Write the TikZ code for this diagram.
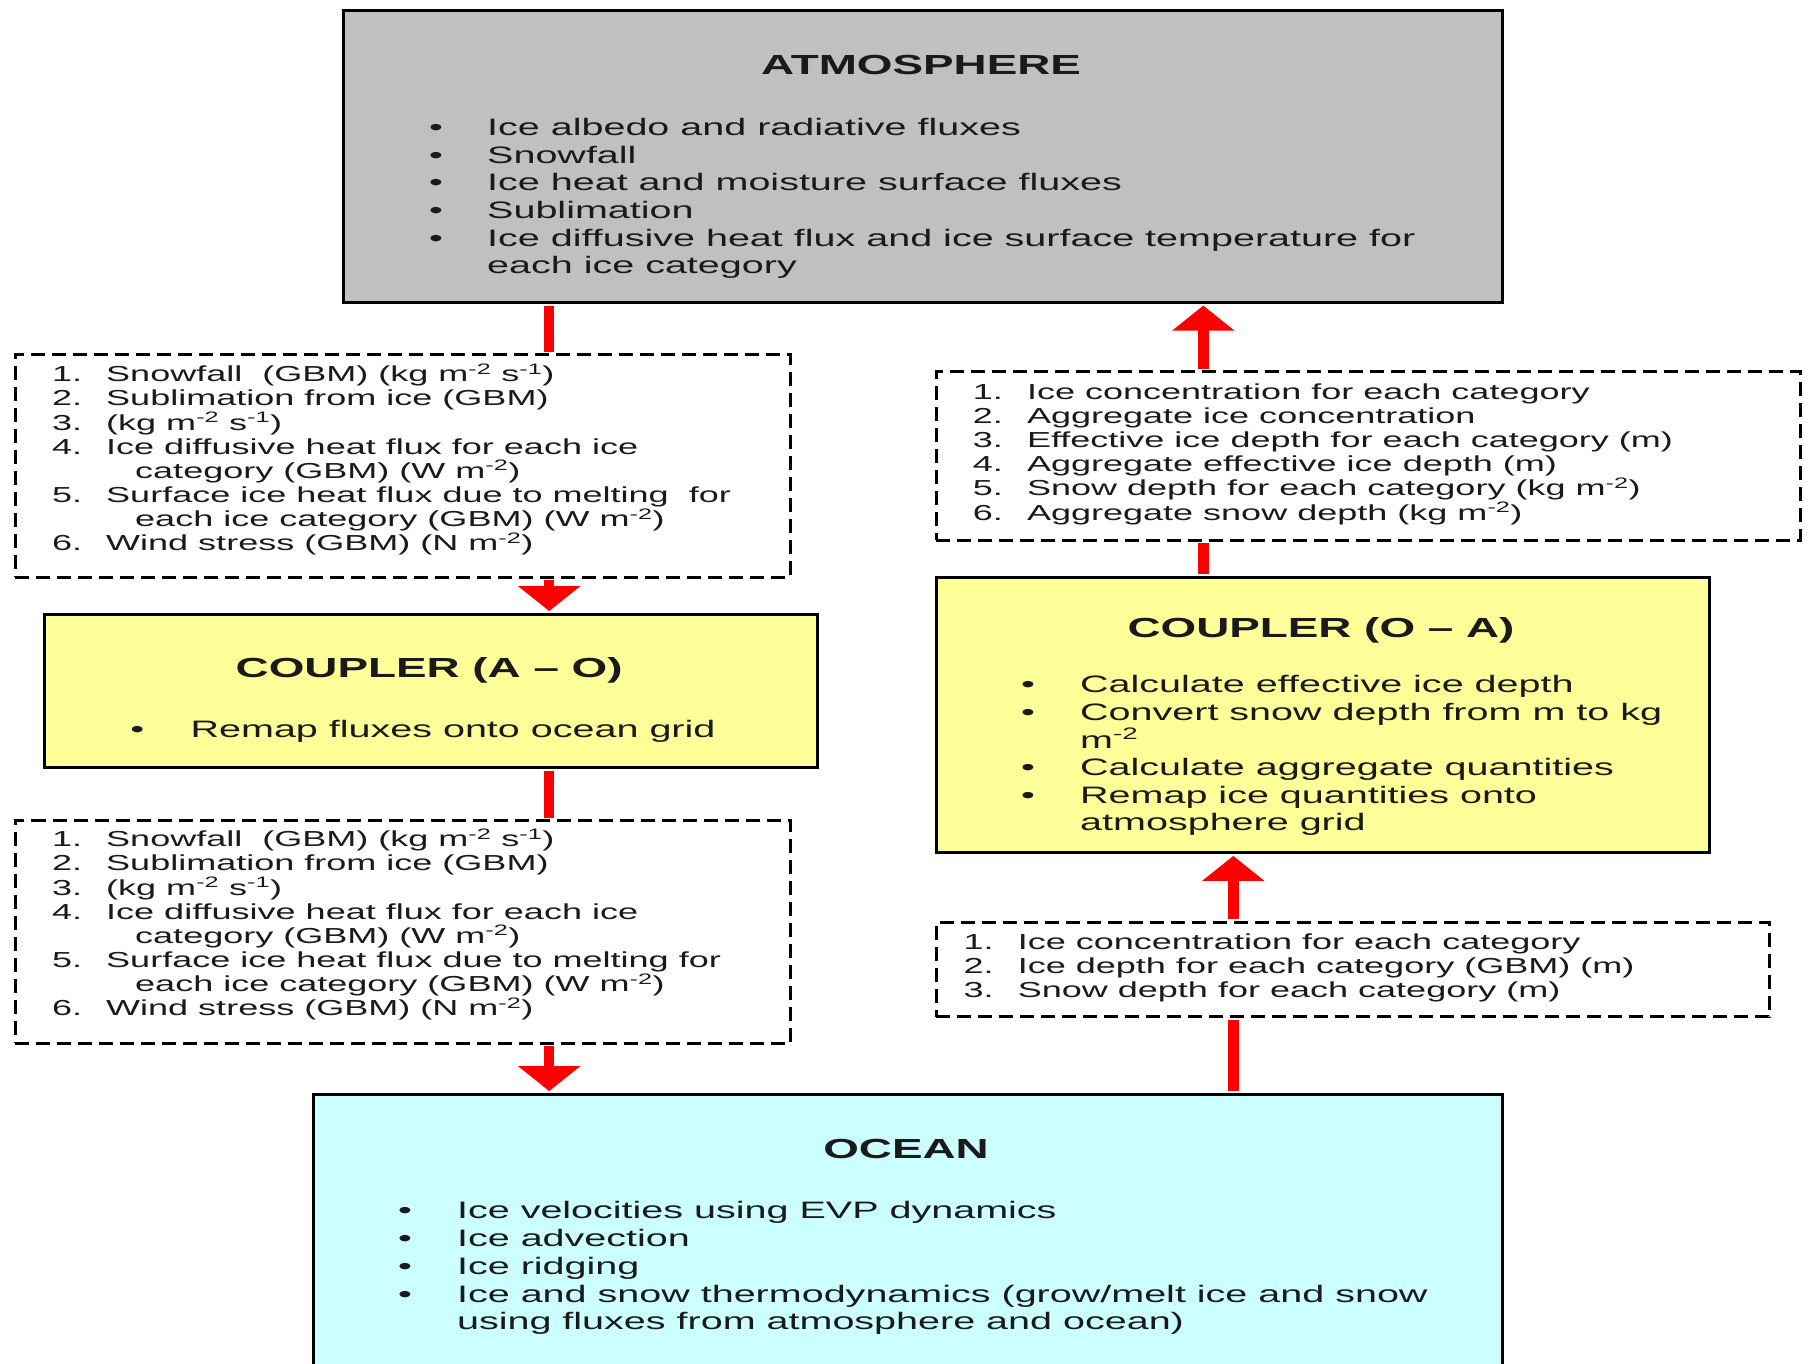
\documentclass[tikz,border=0pt]{standalone}
\usepackage{fontspec}
\setmainfont{Liberation Sans}[FakeStretch=1.66]
\usetikzlibrary{arrows.meta}
\definecolor{atmgray}{HTML}{C0C0C0}
\definecolor{cplyellow}{HTML}{FFFF99}
\definecolor{oceancyan}{HTML}{CCFFFF}
\definecolor{txtcol}{HTML}{1A1A1A}
\newcommand\bodyfont{\fontsize{23.8}{27.7}\selectfont}
\newcommand\lstfont{\fontsize{21.7}{24.2}\selectfont}
\newcommand\ttlfont{\fontsize{27.6}{32}\selectfont\bfseries}
\newcommand\sps[1]{\textsuperscript{#1}}
\begin{document}
\begin{tikzpicture}[x=1pt,y=-1pt,
  solidbox/.style={draw=black, line width=3pt, inner sep=0pt, anchor=north west},
  dashbox/.style={draw=black, line width=3pt, dash pattern=on 14pt off 7pt, inner sep=0pt, anchor=north west},
  ttl/.style={inner sep=0pt, anchor=center, text height=21.9pt, text depth=0pt, font=\ttlfont, text=txtcol},
  body/.style={inner sep=0pt, anchor=west, text height=19.5pt, text depth=0pt, font=\bodyfont, text=txtcol},
  bul/.style={body, anchor=center},
  lst/.style={inner sep=0pt, anchor=west, text height=18pt, text depth=0pt, font=\lstfont, text=txtcol},
  redline/.style={draw=red, line width=10.5pt, shorten <=1.5pt, shorten >=1.5pt},
  redarrow/.style={redline, -{Triangle[width=61pt,length=25pt]}}
]
\clip (0,0) rectangle (1809,1364);
\fill[white] (0,0) rectangle (1809,1364);

% ---------- boxes ----------
\node[solidbox, fill=atmgray, minimum width=1159.5pt, minimum height=291.9pt] (atm) at (341.5,9.2) {};
\node[dashbox, minimum width=775.2pt, minimum height=222.7pt] (box1) at (13.8,353) {};
\node[solidbox, fill=cplyellow, minimum width=773pt, minimum height=153.4pt] (cpl1) at (42.7,612.6) {};
\node[dashbox, minimum width=775.2pt, minimum height=222.8pt] (box2) at (13.8,819) {};
\node[solidbox, fill=oceancyan, minimum width=1189.5pt, minimum height=320pt] (ocean) at (311.5,1092.6) {};
\node[solidbox, fill=cplyellow, minimum width=773pt, minimum height=275.7pt] (cpl2) at (934.5,575.7) {};
\node[dashbox, minimum width=864.1pt, minimum height=168.5pt] (box3) at (934.5,370.3) {};
\node[dashbox, minimum width=833pt, minimum height=94.6pt] (box4) at (934.5,920.7) {};

% ---------- connectors ----------
\coordinate (lx) at (549.2,0);
\coordinate (rxa) at (1203.3,0);
\coordinate (rxb) at (1233.3,0);
\draw[redline] (atm.south -| lx) -- (box1.north -| lx);
\draw[redarrow] (box1.south -| lx) -- (cpl1.north -| lx);
\draw[redline] (cpl1.south -| lx) -- (box2.north -| lx);
\draw[redarrow] (box2.south -| lx) -- (ocean.north -| lx);
\draw[redarrow] (box3.north -| rxa) -- (atm.south -| rxa);
\draw[redline] (cpl2.north -| rxa) -- (box3.south -| rxa);
\draw[redarrow] (box4.north -| rxb) -- (cpl2.south -| rxb);
\draw[redline] (ocean.north -| rxb) -- (box4.south -| rxb);

% ---------- ATMOSPHERE ----------
\node[ttl] (atm-t) at (921,63.5) {ATMOSPHERE};
\node[bul] (atm-b1) at (436,125.8) {\textbullet};
\node[body] (atm-l1) at (487,125.8) {Ice albedo and radiative fluxes};
\node[bul] (atm-b2) at (436,153.5) {\textbullet};
\node[body] (atm-l2) at (487,153.5) {Snowfall};
\node[bul] (atm-b3) at (436,181.2) {\textbullet};
\node[body] (atm-l3) at (487,181.2) {Ice heat and moisture surface fluxes};
\node[bul] (atm-b4) at (436,208.9) {\textbullet};
\node[body] (atm-l4) at (487,208.9) {Sublimation};
\node[bul] (atm-b5) at (436,236.6) {\textbullet};
\node[body] (atm-l5) at (487,236.6) {Ice diffusive heat flux and ice surface temperature for};
\node[body] (atm-l6) at (487,263.6) {each ice category};

% ---------- list box 1 ----------
\node[lst] (b1-n1) at (52,372.6) {1.};
\node[lst] (b1-l1) at (106,372.6) {Snowfall\ \ (GBM) (kg m\sps{-2} s\sps{-1})};
\node[lst] (b1-n2) at (52,396.8) {2.};
\node[lst] (b1-l2) at (106,396.8) {Sublimation from ice (GBM)};
\node[lst] (b1-n3) at (52,421) {3.};
\node[lst] (b1-l3) at (106,421) {(kg m\sps{-2} s\sps{-1})};
\node[lst] (b1-n4) at (52,445.2) {4.};
\node[lst] (b1-l4) at (106,445.2) {Ice diffusive heat flux for each ice};
\node[lst] (b1-l4b) at (135,469.4) {category (GBM) (W m\sps{-2})};
\node[lst] (b1-n5) at (52,493.6) {5.};
\node[lst] (b1-l5) at (106,493.6) {Surface ice heat flux due to melting\ \ for};
\node[lst] (b1-l5b) at (135,517.8) {each ice category (GBM) (W m\sps{-2})};
\node[lst] (b1-n6) at (52,541.6) {6.};
\node[lst] (b1-l6) at (106,541.6) {Wind stress (GBM) (N m\sps{-2})};

% ---------- COUPLER (A - O) ----------
\node[ttl] (cpl1-t) at (429.2,666.8) {COUPLER (A -- O)};
\node[bul] (cpl1-b1) at (137.3,728) {\textbullet};
\node[body] (cpl1-l1) at (190.4,728) {Remap fluxes onto ocean grid};

% ---------- list box 2 ----------
\node[lst] (b2-n1) at (52,837.6) {1.};
\node[lst] (b2-l1) at (106,837.6) {Snowfall\ \ (GBM) (kg m\sps{-2} s\sps{-1})};
\node[lst] (b2-n2) at (52,861.8) {2.};
\node[lst] (b2-l2) at (106,861.8) {Sublimation from ice (GBM)};
\node[lst] (b2-n3) at (52,886) {3.};
\node[lst] (b2-l3) at (106,886) {(kg m\sps{-2} s\sps{-1})};
\node[lst] (b2-n4) at (52,910.2) {4.};
\node[lst] (b2-l4) at (106,910.2) {Ice diffusive heat flux for each ice};
\node[lst] (b2-l4b) at (135,934.4) {category (GBM) (W m\sps{-2})};
\node[lst] (b2-n5) at (52,958.6) {5.};
\node[lst] (b2-l5) at (106,958.6) {Surface ice heat flux due to melting for};
\node[lst] (b2-l5b) at (135,982.8) {each ice category (GBM) (W m\sps{-2})};
\node[lst] (b2-n6) at (52,1006.6) {6.};
\node[lst] (b2-l6) at (106,1006.6) {Wind stress (GBM) (N m\sps{-2})};

% ---------- OCEAN ----------
\node[ttl] (ocean-t) at (906,1148) {OCEAN};
\node[bul] (oc-b1) at (405,1209) {\textbullet};
\node[body] (oc-l1) at (456.9,1209) {Ice velocities using EVP dynamics};
\node[bul] (oc-b2) at (405,1236.7) {\textbullet};
\node[body] (oc-l2) at (456.9,1236.7) {Ice advection};
\node[bul] (oc-b3) at (405,1264.4) {\textbullet};
\node[body] (oc-l3) at (456.9,1264.4) {Ice ridging};
\node[bul] (oc-b4) at (405,1292.8) {\textbullet};
\node[body] (oc-l4) at (456.9,1292.8) {Ice and snow thermodynamics (grow/melt ice and snow};
\node[body] (oc-l5) at (456.9,1319.8) {using fluxes from atmosphere and ocean)};

% ---------- COUPLER (O - A) ----------
\node[ttl] (cpl2-t) at (1321,626.5) {COUPLER (O -- A)};
\node[bul] (cpl2-b1) at (1028,683) {\textbullet};
\node[body] (cpl2-l1) at (1080,683) {Calculate effective ice depth};
\node[bul] (cpl2-b2) at (1028,710.7) {\textbullet};
\node[body] (cpl2-l2) at (1080,710.7) {Convert snow depth from m to kg};
\node[body] (cpl2-l2b) at (1080,738.4) {m\sps{-2}};
\node[bul] (cpl2-b3) at (1028,766.1) {\textbullet};
\node[body] (cpl2-l3) at (1080,766.1) {Calculate aggregate quantities};
\node[bul] (cpl2-b4) at (1028,793.8) {\textbullet};
\node[body] (cpl2-l4) at (1080,793.8) {Remap ice quantities onto};
\node[body] (cpl2-l4b) at (1080,820.5) {atmosphere grid};

% ---------- list box 3 ----------
\node[lst] (b3-n1) at (972.6,390) {1.};
\node[lst] (b3-l1) at (1026.8,390) {Ice concentration for each category};
\node[lst] (b3-n2) at (972.6,414.2) {2.};
\node[lst] (b3-l2) at (1026.8,414.2) {Aggregate ice concentration};
\node[lst] (b3-n3) at (972.6,438.4) {3.};
\node[lst] (b3-l3) at (1026.8,438.4) {Effective ice depth for each category (m)};
\node[lst] (b3-n4) at (972.6,462.6) {4.};
\node[lst] (b3-l4) at (1026.8,462.6) {Aggregate effective ice depth (m)};
\node[lst] (b3-n5) at (972.6,486.8) {5.};
\node[lst] (b3-l5) at (1026.8,486.8) {Snow depth for each category (kg m\sps{-2})};
\node[lst] (b3-n6) at (972.6,511) {6.};
\node[lst] (b3-l6) at (1026.8,511) {Aggregate snow depth (kg m\sps{-2})};

% ---------- list box 4 ----------
\node[lst] (b4-n1) at (963.3,940.3) {1.};
\node[lst] (b4-l1) at (1017.6,940.3) {Ice concentration for each category};
\node[lst] (b4-n2) at (963.3,964.5) {2.};
\node[lst] (b4-l2) at (1017.6,964.5) {Ice depth for each category (GBM) (m)};
\node[lst] (b4-n3) at (963.3,988.7) {3.};
\node[lst] (b4-l3) at (1017.6,988.7) {Snow depth for each category (m)};
\end{tikzpicture}
\end{document}
